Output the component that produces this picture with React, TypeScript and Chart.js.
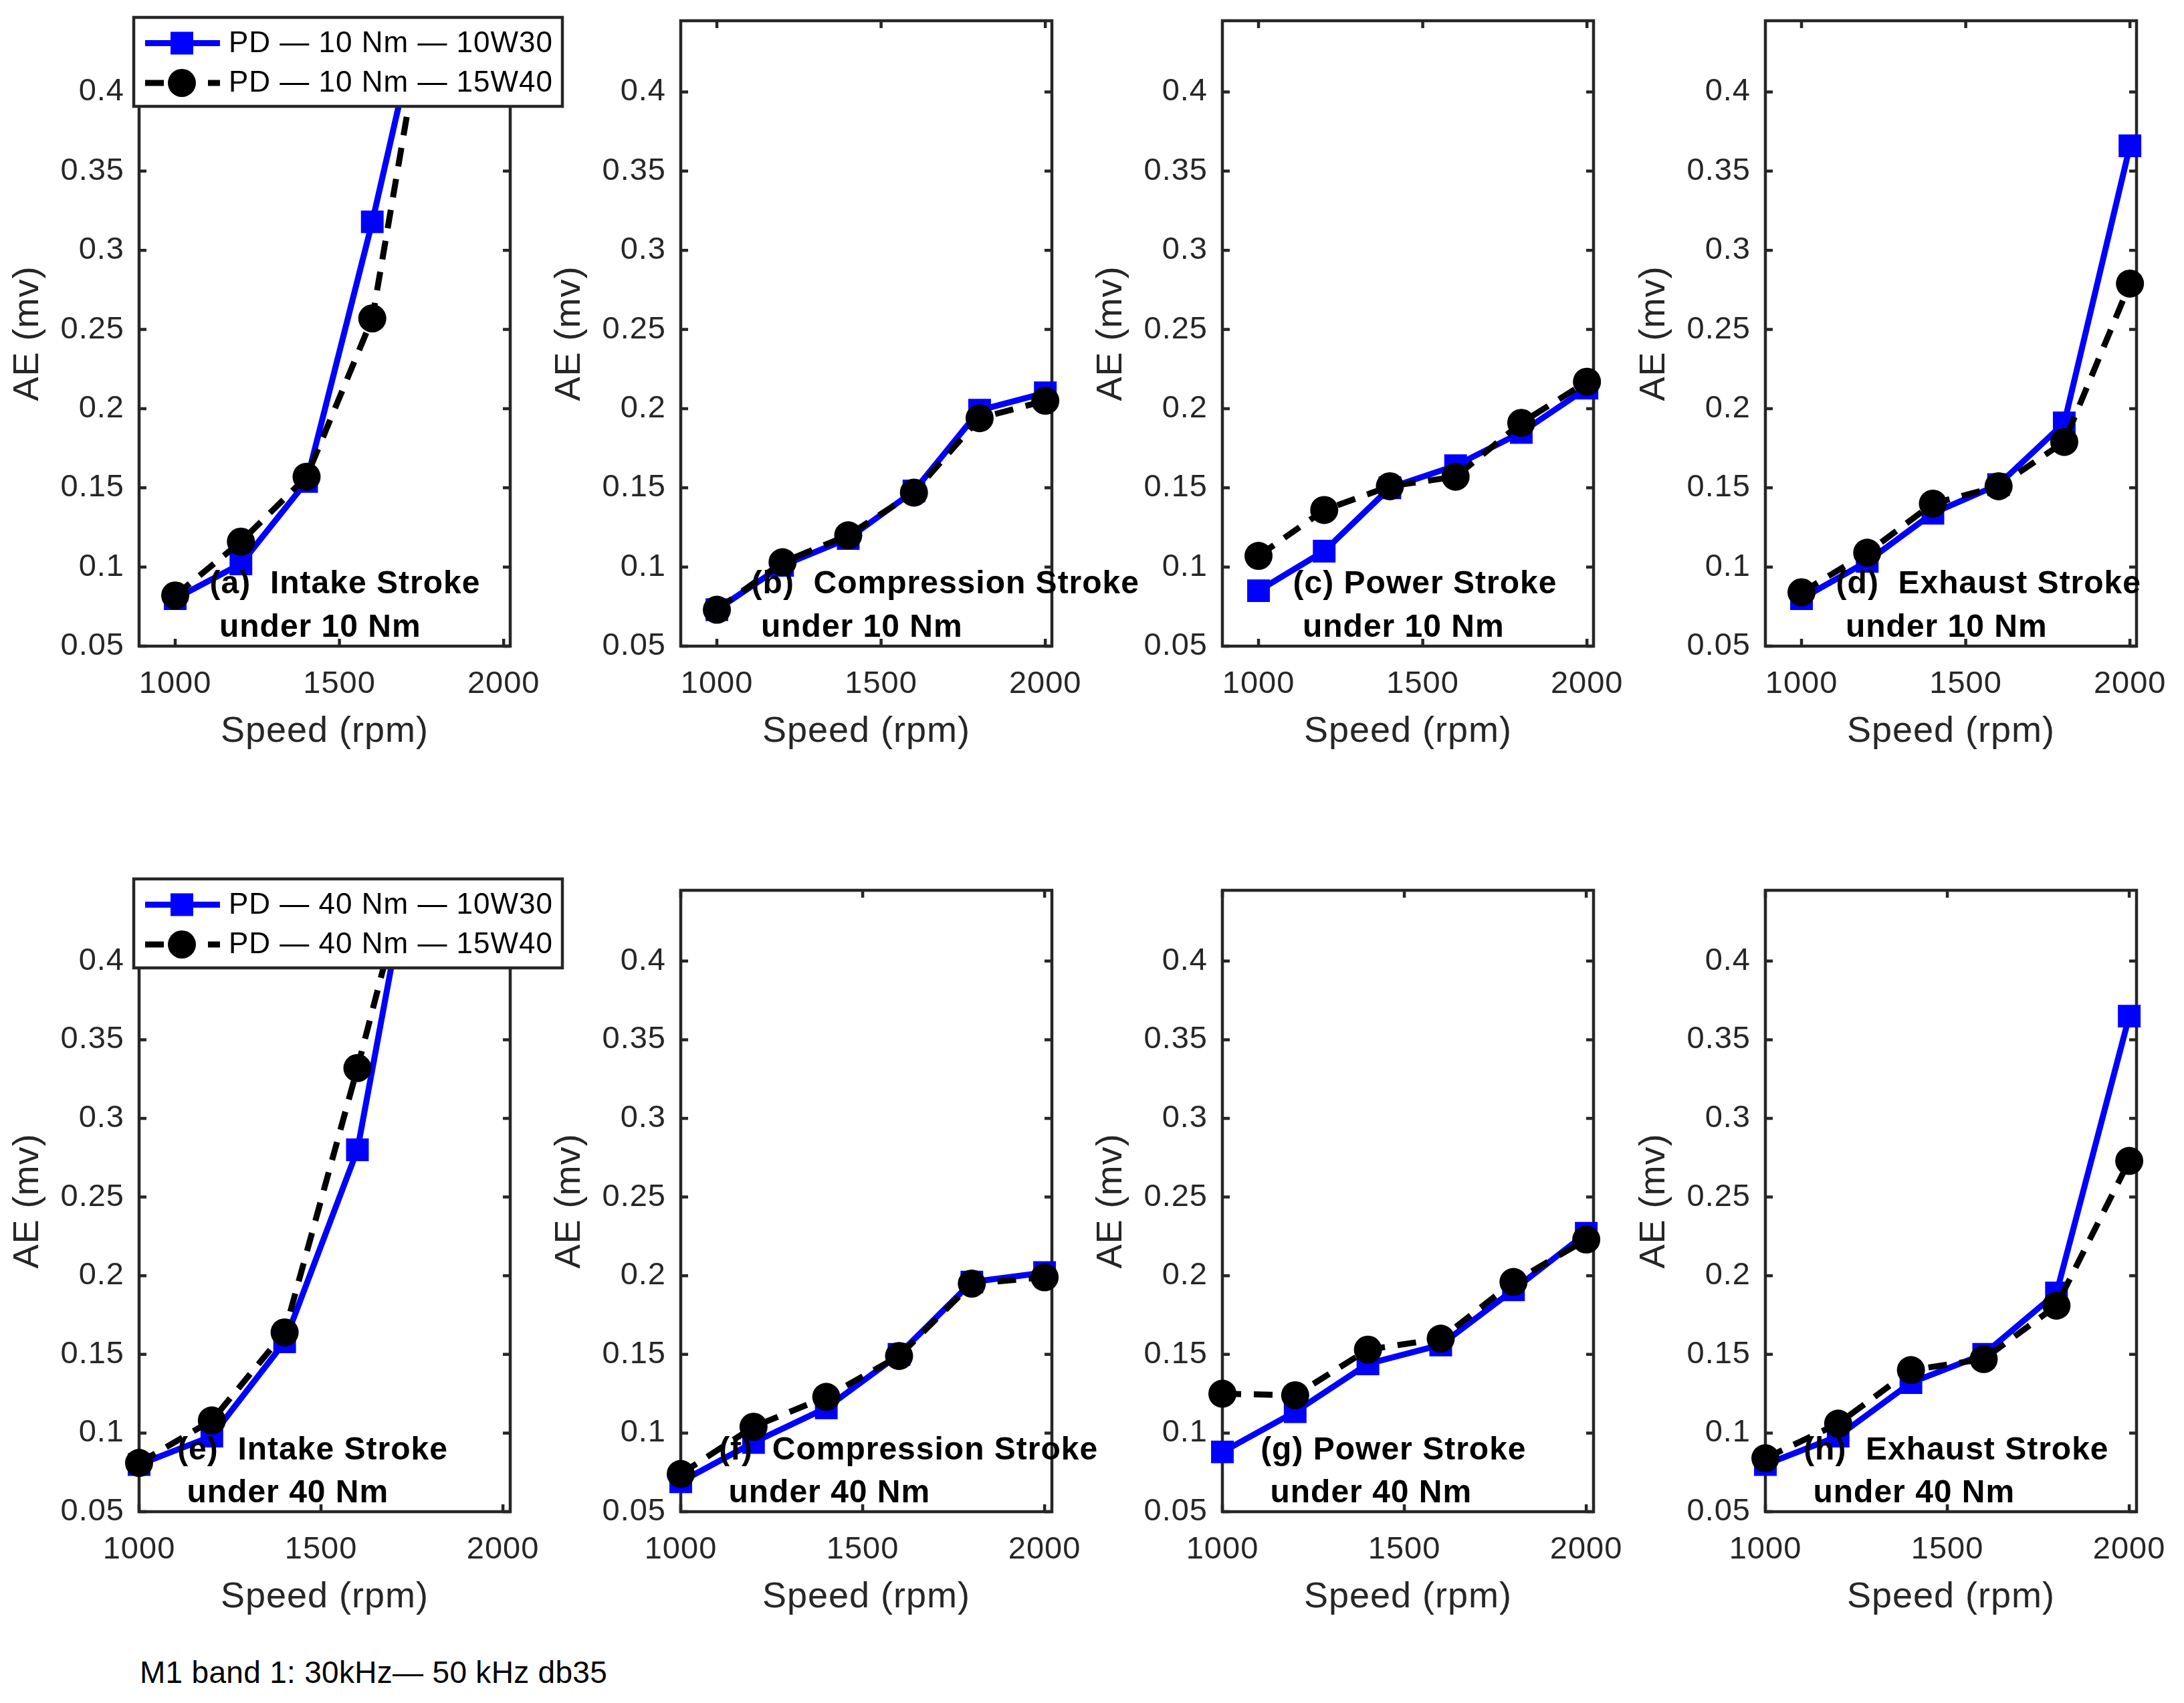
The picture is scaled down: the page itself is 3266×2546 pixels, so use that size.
import { useEffect, useRef } from 'react'
import { Chart, registerables } from 'chart.js'

Chart.register(...registerables)

// Engine speeds (rpm) shared by every panel
const speeds = [1000, 1200, 1400, 1600, 1800, 2000]
const xTickValues = [1000, 1500, 2000]
const yTickValues = [0.05, 0.1, 0.15, 0.2, 0.25, 0.3, 0.35, 0.4]
const yTickLabels = ['0.05', '0.1', '0.15', '0.2', '0.25', '0.3', '0.35', '0.4']

// 10 Nm load, oil 10W30 (blue squares)
const intake10Nm10W30 = [0.080, 0.102, 0.154, 0.318, 0.50, 0.58]
const compression10Nm10W30 = [0.073, 0.101, 0.118, 0.148, 0.199, 0.210]
const power10Nm10W30 = [0.085, 0.110, 0.150, 0.164, 0.185, 0.213]
const exhaust10Nm10W30 = [0.080, 0.1035, 0.134, 0.152, 0.191, 0.366]

// 10 Nm load, oil 15W40 (black circles)
const intake10Nm15W40 = [0.082, 0.116, 0.157, 0.257, 0.50, 0.56]
const compression10Nm15W40 = [0.073, 0.103, 0.120, 0.147, 0.194, 0.205]
const power10Nm15W40 = [0.107, 0.136, 0.151, 0.157, 0.191, 0.217]
const exhaust10Nm15W40 = [0.084, 0.109, 0.140, 0.151, 0.179, 0.279]

// 40 Nm load, oil 10W30
const intake40Nm10W30 = [0.080, 0.098, 0.158, 0.280, 0.53, 0.60]
const compression40Nm10W30 = [0.069, 0.094, 0.116, 0.150, 0.196, 0.202]
const power40Nm10W30 = [0.088, 0.1135, 0.144, 0.156, 0.191, 0.227]
const exhaust40Nm10W30 = [0.080, 0.098, 0.132, 0.150, 0.189, 0.365]

// 40 Nm load, oil 15W40
const intake40Nm15W40 = [0.081, 0.108, 0.164, 0.332, 0.51, 0.58]
const compression40Nm15W40 = [0.074, 0.104, 0.123, 0.149, 0.195, 0.199]
const power40Nm15W40 = [0.125, 0.124, 0.153, 0.160, 0.196, 0.223]
const exhaust40Nm15W40 = [0.084, 0.106, 0.140, 0.147, 0.181, 0.273]

const legend10Nm = ['PD — 10 Nm — 10W30', 'PD — 10 Nm — 15W40']
const legend40Nm = ['PD — 40 Nm — 10W30', 'PD — 40 Nm — 15W40']

const panelNotes = [
  ['(a)  Intake Stroke', ' under 10 Nm'],
  ['(b)  Compression Stroke', ' under 10 Nm'],
  ['(c) Power Stroke', ' under 10 Nm'],
  ['(d)  Exhaust Stroke', ' under 10 Nm'],
  ['(e)  Intake Stroke', ' under 40 Nm'],
  ['(f)  Compression Stroke', ' under 40 Nm'],
  ['(g) Power Stroke', ' under 40 Nm'],
  ['(h)  Exhaust Stroke', ' under 40 Nm'],
]
// text anchors in data units (rpm, mV), like MATLAB text()
const noteX = 1105
const noteY = [0.089, 0.0615]

const footnote = 'M1 band 1: 30kHz— 50 kHz db35'

const FONT = '"Liberation Sans", Arial, Helvetica, sans-serif'
const AXIS = '#262626'
const BLUE = '#0000ff'

const PAD_L = 205
const PAD_T = 40
const PAD_R = 140
const PAD_B = 180
const PLOT_W = 555
const colLeft = [208, 1018, 1828, 2640]
const rowTop = [31, 1331]
const rowBottom = [966, 2260]
const rowXMin = [890, 1000]
const legendOffset = [-5, -17]
const X_MAX = 2020
const Y_MIN = 0.05
const Y_MAX = 0.445

interface PanelDef {
  index: number
  row: number
  col: number
  pd10W30: number[]
  pd15W40: number[]
  labels: string[]
  legend: boolean
}

const panels: PanelDef[] = [
  { index: 0, row: 0, col: 0, pd10W30: intake10Nm10W30, pd15W40: intake10Nm15W40, labels: legend10Nm, legend: true },
  { index: 1, row: 0, col: 1, pd10W30: compression10Nm10W30, pd15W40: compression10Nm15W40, labels: legend10Nm, legend: false },
  { index: 2, row: 0, col: 2, pd10W30: power10Nm10W30, pd15W40: power10Nm15W40, labels: legend10Nm, legend: false },
  { index: 3, row: 0, col: 3, pd10W30: exhaust10Nm10W30, pd15W40: exhaust10Nm15W40, labels: legend10Nm, legend: false },
  { index: 4, row: 1, col: 0, pd10W30: intake40Nm10W30, pd15W40: intake40Nm15W40, labels: legend40Nm, legend: true },
  { index: 5, row: 1, col: 1, pd10W30: compression40Nm10W30, pd15W40: compression40Nm15W40, labels: legend40Nm, legend: false },
  { index: 6, row: 1, col: 2, pd10W30: power40Nm10W30, pd15W40: power40Nm15W40, labels: legend40Nm, legend: false },
  { index: 7, row: 1, col: 3, pd10W30: exhaust40Nm10W30, pd15W40: exhaust40Nm15W40, labels: legend40Nm, legend: false },
]

// MATLAB's text is a little wider than Arial, open it up a bit
const spacingPlugin = {
  id: 'spacing',
  beforeDraw(chart: any) {
    chart.ctx.letterSpacing = '1px'
  },
}

// box and inward tick marks, drawn under the data like MATLAB
const framePlugin = {
  id: 'frame',
  beforeDatasetsDraw(chart: any) {
    const { ctx, chartArea: a, scales } = chart
    ctx.save()
    ctx.strokeStyle = AXIS
    ctx.lineWidth = 4.5
    ctx.strokeRect(a.left, a.top, a.right - a.left, a.bottom - a.top)
    ctx.beginPath()
    yTickValues.forEach((v) => {
      const y = scales.y.getPixelForValue(v)
      ctx.moveTo(a.left, y)
      ctx.lineTo(a.left + 11, y)
      ctx.moveTo(a.right, y)
      ctx.lineTo(a.right - 11, y)
    })
    xTickValues.forEach((v) => {
      const x = scales.x.getPixelForValue(v)
      ctx.moveTo(x, a.bottom)
      ctx.lineTo(x, a.bottom - 11)
      ctx.moveTo(x, a.top)
      ctx.lineTo(x, a.top + 11)
    })
    ctx.stroke()
    ctx.restore()
  },
}

const makeNotePlugin = (lines: string[]) => ({
  id: 'notes',
  afterDatasetsDraw(chart: any) {
    const { ctx, scales } = chart
    ctx.save()
    ctx.font = `bold 48px ${FONT}`
    ctx.fillStyle = '#000'
    ctx.textAlign = 'left'
    ctx.textBaseline = 'middle'
    lines.forEach((t, i) => {
      ctx.fillText(t, scales.x.getPixelForValue(noteX), scales.y.getPixelForValue(noteY[i]))
    })
    ctx.restore()
  },
})

const makeLegendPlugin = (row: number) => ({
  id: 'boxLegend',
  afterDraw(chart: any) {
    const { ctx, chartArea: a } = chart
    const left = a.left - 8
    const top = a.top + legendOffset[row]
    const w = 641
    const h = 133
    ctx.save()
    ctx.fillStyle = '#fff'
    ctx.fillRect(left, top, w, h)
    ctx.lineWidth = 4.5
    ctx.strokeStyle = AXIS
    ctx.strokeRect(left, top, w, h)
    chart.data.datasets.forEach((ds: any, i: number) => {
      const y = top + 38.5 + i * 59.5
      ctx.beginPath()
      ctx.lineWidth = ds.borderWidth
      ctx.strokeStyle = ds.borderColor
      ctx.setLineDash(ds.borderDash || [])
      ctx.moveTo(left + 17, y)
      ctx.lineTo(left + 129, y)
      ctx.stroke()
      ctx.setLineDash([])
      ctx.fillStyle = ds.backgroundColor
      const cx = left + 72
      if (ds.pointStyle === 'rect') {
        ctx.fillRect(cx - 17, y - 17, 34, 34)
      } else {
        ctx.beginPath()
        ctx.arc(cx, y, 21, 0, Math.PI * 2)
        ctx.fill()
      }
      ctx.fillStyle = '#000'
      ctx.font = `44px ${FONT}`
      ctx.textAlign = 'left'
      ctx.textBaseline = 'middle'
      ctx.fillText(ds.label, left + 142, y + 1)
    })
    ctx.restore()
  },
})

const Panel = ({ panel }: { panel: PanelDef }) => {
  const chartRef = useRef<HTMLCanvasElement>(null)
  const plotH = rowBottom[panel.row] - rowTop[panel.row]
  const width = PAD_L + PLOT_W + PAD_R
  const height = PAD_T + plotH + PAD_B

  useEffect(() => {
    if (!chartRef.current) return
    const clip = { left: 40, top: 0, right: 40, bottom: 40 }
    const plugins: any[] = [spacingPlugin, framePlugin, makeNotePlugin(panelNotes[panel.index])]
    if (panel.legend) plugins.push(makeLegendPlugin(panel.row))

    const chart = new Chart(chartRef.current, {
      type: 'line',
      data: {
        datasets: [
          {
            label: panel.labels[0],
            data: speeds.map((x, i) => ({ x, y: panel.pd10W30[i] })),
            borderColor: BLUE,
            backgroundColor: BLUE,
            borderWidth: 9,
            pointStyle: 'rect',
            pointRadius: 24,
            pointBorderWidth: 0,
            order: 2,
            clip,
          },
          {
            label: panel.labels[1],
            data: speeds.map((x, i) => ({ x, y: panel.pd15W40[i] })),
            borderColor: '#000',
            backgroundColor: '#000',
            borderWidth: 9,
            borderDash: [28, 19],
            pointStyle: 'circle',
            pointRadius: 21,
            pointBorderWidth: 0,
            order: 1,
            clip,
          },
        ],
      } as any,
      options: {
        animation: false,
        responsive: false,
        devicePixelRatio: 1,
        events: [],
        layout: { padding: { left: 0, top: PAD_T, right: PAD_R, bottom: 0 } },
        plugins: {
          legend: { display: false },
          tooltip: { enabled: false },
        },
        scales: {
          x: {
            type: 'linear',
            min: rowXMin[panel.row],
            max: X_MAX,
            afterBuildTicks: (s: any) => {
              s.ticks = xTickValues.map((value) => ({ value }))
            },
            afterFit: (s: any) => {
              s.height = PAD_B
              s.paddingLeft = 0
              s.paddingRight = 0
            },
            grid: { display: false, drawTicks: false },
            border: { display: false },
            ticks: {
              autoSkip: false,
              maxRotation: 0,
              padding: 29,
              color: AXIS,
              font: { family: FONT, size: 47 },
              callback: (v: any) => String(v),
            },
            title: {
              display: true,
              text: 'Speed (rpm)',
              color: AXIS,
              font: { family: FONT, size: 54 },
              padding: { top: 0, bottom: 19 },
            },
          },
          y: {
            type: 'linear',
            min: Y_MIN,
            max: Y_MAX,
            afterBuildTicks: (s: any) => {
              s.ticks = yTickValues.map((value) => ({ value }))
            },
            afterFit: (s: any) => {
              s.width = PAD_L
              s.paddingTop = 0
              s.paddingBottom = 0
            },
            grid: { display: false, drawTicks: false },
            border: { display: false },
            ticks: {
              autoSkip: false,
              padding: 22,
              color: AXIS,
              font: { family: FONT, size: 47 },
              callback: (_v: any, i: number) => yTickLabels[i],
            },
            title: {
              display: true,
              text: 'AE (mv)',
              color: AXIS,
              font: { family: FONT, size: 54 },
              padding: { top: 7, bottom: 0 },
            },
          },
        },
      } as any,
      plugins,
    })

    return () => {
      chart.destroy()
    }
  }, [panel])

  return (
    <canvas
      ref={chartRef}
      width={width}
      height={height}
      style={{
        position: 'absolute',
        left: colLeft[panel.col] - PAD_L,
        top: rowTop[panel.row] - PAD_T,
        width,
        height,
      }}
    />
  )
}

const App = () => {
  useEffect(() => {
    document.body.style.margin = '0'
    document.body.style.overflow = 'hidden'
  }, [])

  return (
    <div
      style={{
        position: 'absolute',
        left: 0,
        top: 0,
        width: 3266,
        height: 2546,
        background: '#fff',
        overflow: 'hidden',
      }}
    >
      {panels.map((p) => (
        <Panel key={p.index} panel={p} />
      ))}
      <div
        style={{
          position: 'absolute',
          left: 209,
          top: 2472,
          fontFamily: FONT,
          fontSize: 46,
          lineHeight: '56px',
          letterSpacing: '0.3px',
          color: '#000',
          whiteSpace: 'pre',
        }}
      >
        {footnote}
      </div>
    </div>
  )
}

export default App
